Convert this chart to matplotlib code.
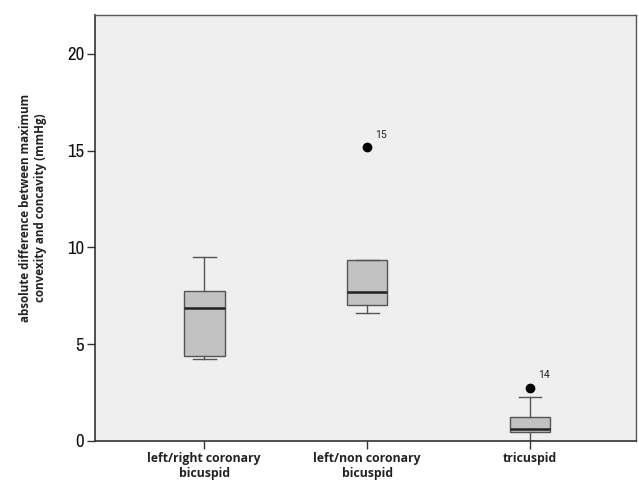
import matplotlib
matplotlib.use("Agg")
import matplotlib.pyplot as plt
from matplotlib import font_manager

categories = ["left/right coronary\nbicuspid", "left/non coronary\nbicuspid", "tricuspid"]
whislo = [4.22, 6.59, 0.0]
q1 = [4.37, 7.00, 0.43]
med = [6.85, 7.68, 0.60]
q3 = [7.76, 9.33, 1.22]
whishi = [9.52, 9.33, 2.27]
outliers = [[], [15.16], [2.75]]
outlier_ids = [[], ["15"], ["14"]]

names = sorted({f.name for f in font_manager.fontManager.ttflist})
if "Liberation Sans Narrow" in names:
    tick_family = "Liberation Sans Narrow"
else:
    narrow = [n for n in names if "Narrow" in n or "Condensed" in n]
    tick_family = narrow[0] if narrow else "Roboto"

fig = plt.figure(figsize=(6.39, 4.86), dpi=100)
ax = fig.add_axes([0.149, 0.093, 0.846, 0.876])
ax.set_facecolor("#efefef")

stats = []
for i in range(len(categories)):
    stats.append(dict(whislo=whislo[i], q1=q1[i], med=med[i], q3=q3[i],
                      whishi=whishi[i], fliers=outliers[i], label=categories[i]))

ax.bxp(stats, positions=[1, 2, 3], widths=0.25, patch_artist=True,
       boxprops=dict(facecolor="#c2c2c2", edgecolor="#555555", linewidth=1.0),
       medianprops=dict(color="#222222", linewidth=1.8),
       whiskerprops=dict(color="#555555", linewidth=1.0),
       capprops=dict(color="#555555", linewidth=1.0),
       capwidths=0.14,
       flierprops=dict(marker="o", markerfacecolor="black", markeredgecolor="black", markersize=6))

for i in range(len(categories)):
    for v, lab in zip(outliers[i], outlier_ids[i]):
        ax.annotate(lab, (i + 1, v), xytext=(6, 7), textcoords="offset points",
                    fontsize=7.5, color="#222222", family="Roboto")

ax.set_xlim(0.33, 3.65)
ax.set_ylim(0, 22)
ax.set_yticks([0, 5, 10, 15, 20])
ax.set_yticklabels(["0", "5", "10", "15", "20"], fontsize=13.5, family=tick_family,
                   color="#111111")
ax.set_xticks([1, 2, 3])
ax.set_xticklabels(categories, fontsize=8.8, fontweight="bold", color="#222222", family="Open Sans",
                   linespacing=1.25)
ax.tick_params(axis="both", direction="out", length=6, color="#333333", width=1)
ax.tick_params(axis="y", pad=2)
ax.tick_params(axis="x", pad=2)
for s in ["left", "bottom"]:
    ax.spines[s].set_color("#333333")
    ax.spines[s].set_linewidth(1.2)
for s in ["top", "right"]:
    ax.spines[s].set_color("#555555")
    ax.spines[s].set_linewidth(1.0)

ax.set_ylabel("absolute difference between maximum\nconvexity and concavity (mmHg)",
              fontsize=8.4, fontweight="bold", color="#222222", family="Open Sans",
              linespacing=1.15)
ax.yaxis.set_label_coords(-0.09, 0.547)

fig.savefig("out.png", dpi=100)
